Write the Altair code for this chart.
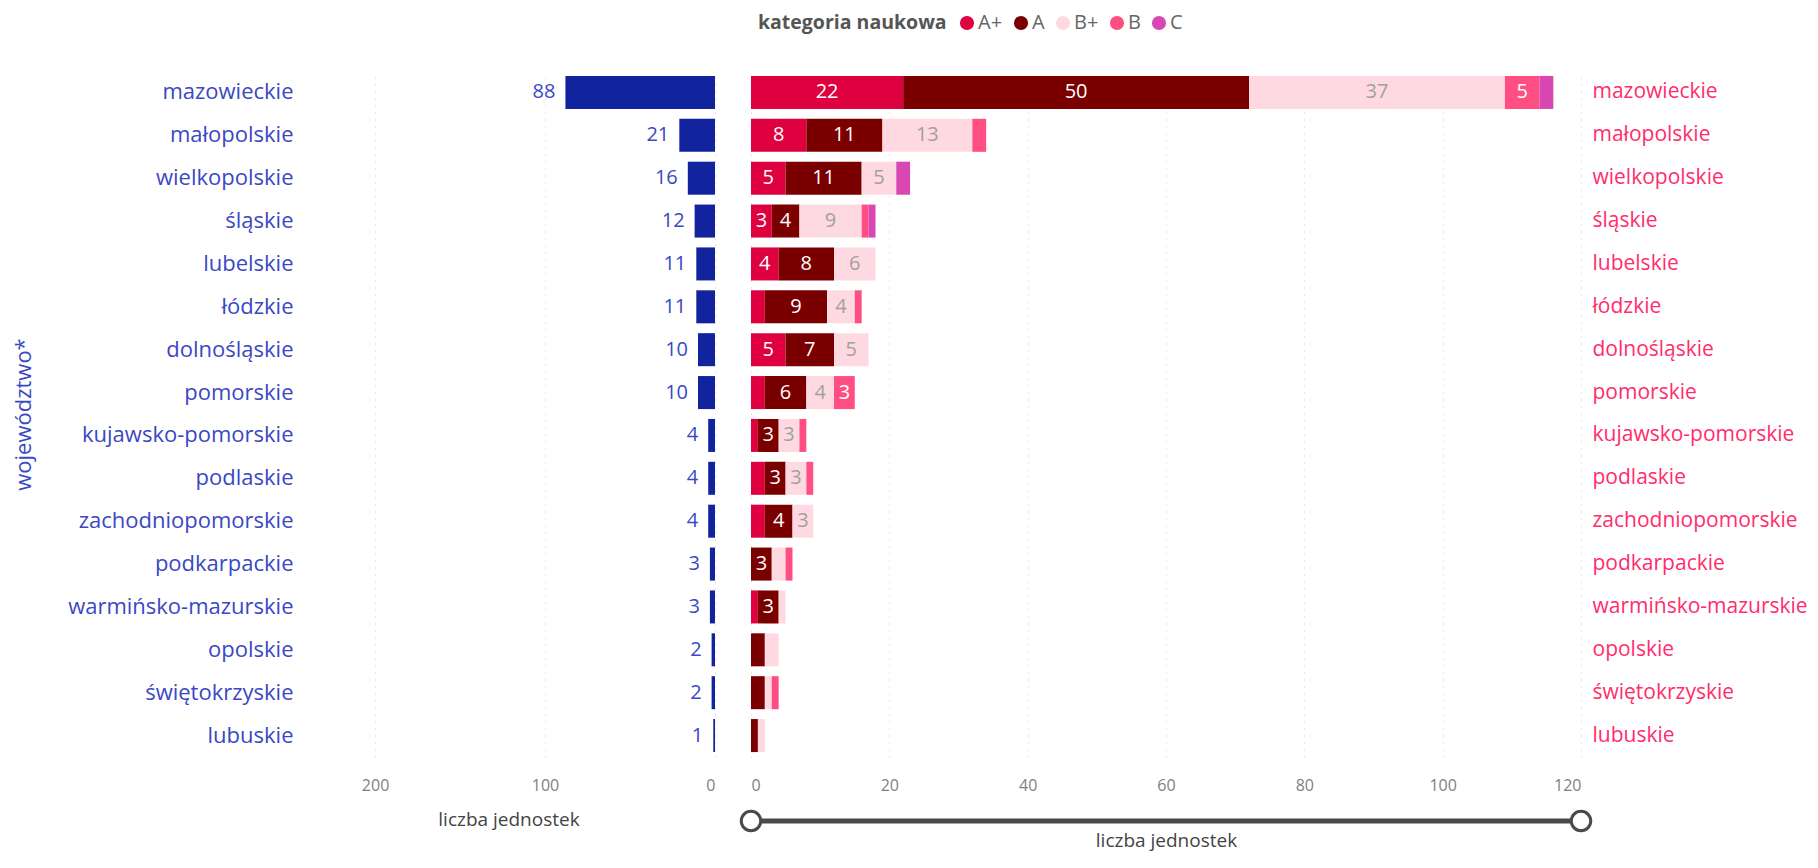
import altair as alt
import pandas as pd

regions = ["mazowieckie", "małopolskie", "wielkopolskie", "śląskie", "lubelskie", "łódzkie",
           "dolnośląskie", "pomorskie", "kujawsko-pomorskie", "podlaskie", "zachodniopomorskie",
           "podkarpackie", "warmińsko-mazurskie", "opolskie", "świętokrzyskie", "lubuskie"]
units = [88, 21, 16, 12, 11, 11, 10, 10, 4, 4, 4, 3, 3, 2, 2, 1]

categories = ["A+", "A", "B+", "B", "C"]
cat_colors = ["#DE003F", "#7A0000", "#FFD9E1", "#FF4F82", "#D947B3"]
val_Aplus = [22, 8, 5, 3, 4, 2, 5, 2, 1, 2, 2, 0, 1, 0, 0, 0]
val_A = [50, 11, 11, 4, 8, 9, 7, 6, 3, 3, 4, 3, 3, 2, 2, 1]
val_Bplus = [37, 13, 5, 9, 6, 4, 5, 4, 3, 3, 3, 2, 1, 2, 1, 1]
val_B = [5, 2, 0, 1, 0, 1, 0, 3, 1, 1, 0, 1, 0, 0, 1, 0]
val_C = [2, 0, 2, 1, 0, 0, 0, 0, 0, 0, 0, 0, 0, 0, 0, 0]

left_ticks = [0, 100, 200]
right_ticks = [0, 20, 40, 60, 80, 100, 120]
slider_range = [0, 120]

FONT = "Open Sans"
BLUE_TXT = "#3A48C4"
PINK_TXT = "#FF2D6B"
GREY = "#808080"

df_units = pd.DataFrame({"region": regions, "units": units})
rows = []
for cat, vals in zip(categories, [val_Aplus, val_A, val_Bplus, val_B, val_C]):
    for r, v in zip(regions, vals):
        if v > 0:
            rows.append({"region": r, "cat": cat, "value": v, "ord": categories.index(cat)})
df_cat = pd.DataFrame(rows)
df_slider = pd.DataFrame({"start": [slider_range[0]], "end": [slider_range[1]]})
df_knobs = pd.DataFrame({"v": slider_range})

H = 686
band = alt.Scale(paddingInner=0.23, paddingOuter=0.115)

# ---------- left panel ----------
left_y = alt.Y("region:N", sort=regions, scale=band,
               axis=alt.Axis(title="województwo*", titleColor=BLUE_TXT, titleFontSize=22,
                             titleFontWeight="normal", titleFont=FONT, titlePadding=14,
                             labelColor=BLUE_TXT, labelFontSize=22, labelFont=FONT,
                             labelPadding=9, ticks=False, domain=False,
                             minExtent=253, maxExtent=253, labelLimit=300))
left_x = alt.X("units:Q", scale=alt.Scale(domain=[0, 243], reverse=True, nice=False),
               axis=alt.Axis(values=left_ticks, title="liczba jednostek", titleFontSize=19,
                             titleFontWeight="normal", titleColor="#444", titleFont=FONT,
                             titlePadding=17, labelColor=GREY, labelFontSize=16, labelFont=FONT,
                             labelPadding=20, ticks=False, domain=False, grid=True,
                             gridDash=[1, 6], gridColor="#CCCCCC"))
left_base = alt.Chart(df_units)
left_bars = left_base.mark_bar(color="#12239E").encode(x=left_x, y=left_y)
left_text = left_base.mark_text(align="right", dx=-10, fontSize=20, font=FONT,
                                color=BLUE_TXT).encode(
    x=alt.X("units:Q"), y=alt.Y("region:N", sort=regions), text="units:Q")
left = alt.layer(left_bars, left_text).properties(width=413, height=H)

# ---------- right panel ----------
right_base = alt.Chart(df_cat).transform_stack(
    stack="value", groupby=["region"], as_=["x0", "x1"],
    sort=[alt.SortField("ord", order="ascending")]
).transform_calculate(mid="(datum.x0 + datum.x1) / 2")

right_y = alt.Y("region:N", sort=regions, scale=band,
                axis=alt.Axis(orient="right", title=None, labelColor=PINK_TXT, labelFontSize=21,
                              labelFont=FONT, labelPadding=11, ticks=False, domain=False,
                              labelLimit=300))
right_x = alt.X("x0:Q", scale=alt.Scale(domain=[0, 120], nice=False),
                axis=alt.Axis(values=right_ticks, title="liczba jednostek", titleFontSize=19,
                              titleFontWeight="normal", titleColor="#444", titleFont=FONT,
                              titlePadding=38, labelColor=GREY, labelFontSize=16, labelFont=FONT,
                              labelPadding=20, ticks=False, domain=False, grid=True,
                              gridDash=[1, 6], gridColor="#CCCCCC"))
right_bars = right_base.mark_bar().encode(
    x=right_x, x2="x1:Q", y=right_y,
    color=alt.Color("cat:N", scale=alt.Scale(domain=categories, range=cat_colors),
                    legend=alt.Legend(title="kategoria naukowa", orient="none",
                                      direction="horizontal", titleOrient="left",
                                      legendX=456, legendY=-58, titleLimit=400,
                                      titleFontSize=19.5, titleFontWeight="bold",
                                      titleColor="#555", titleFont=FONT, titlePadding=10,
                                      labelFontSize=20, labelColor="#666", labelFont=FONT,
                                      labelOffset=1, symbolType="circle", symbolSize=200,
                                      symbolStrokeWidth=0, columnPadding=8)),
    order=alt.Order("ord:Q"))
right_text = right_base.transform_filter("datum.value >= 3").mark_text(
    fontSize=20, font=FONT, baseline="middle").encode(
    x=alt.X("mid:Q"), y=alt.Y("region:N", sort=regions), text="value:Q",
    color=alt.condition("datum.cat == 'B+'", alt.value("#A0A0A0"), alt.value("white")))
slider_line = alt.Chart(df_slider).mark_rule(color="#4A4A4A", strokeWidth=5).encode(
    x="start:Q", x2="end:Q", y=alt.value(H + 64))
slider_knobs = alt.Chart(df_knobs).mark_point(
    filled=True, fill="white", stroke="#4A4A4A", strokeWidth=3, size=380, opacity=1,
    shape="circle").encode(x="v:Q", y=alt.value(H + 64))
right = alt.layer(right_bars, right_text, slider_line, slider_knobs).properties(width=830, height=H)

chart = alt.hconcat(left, right, spacing=36, bounds="flush").properties(
    padding={"top": 5, "left": 4, "right": 0, "bottom": 3}
).configure(font=FONT).configure_view(stroke="transparent", strokeWidth=0)

chart.save("out.html", embed_options={"renderer": "svg", "actions": False})
